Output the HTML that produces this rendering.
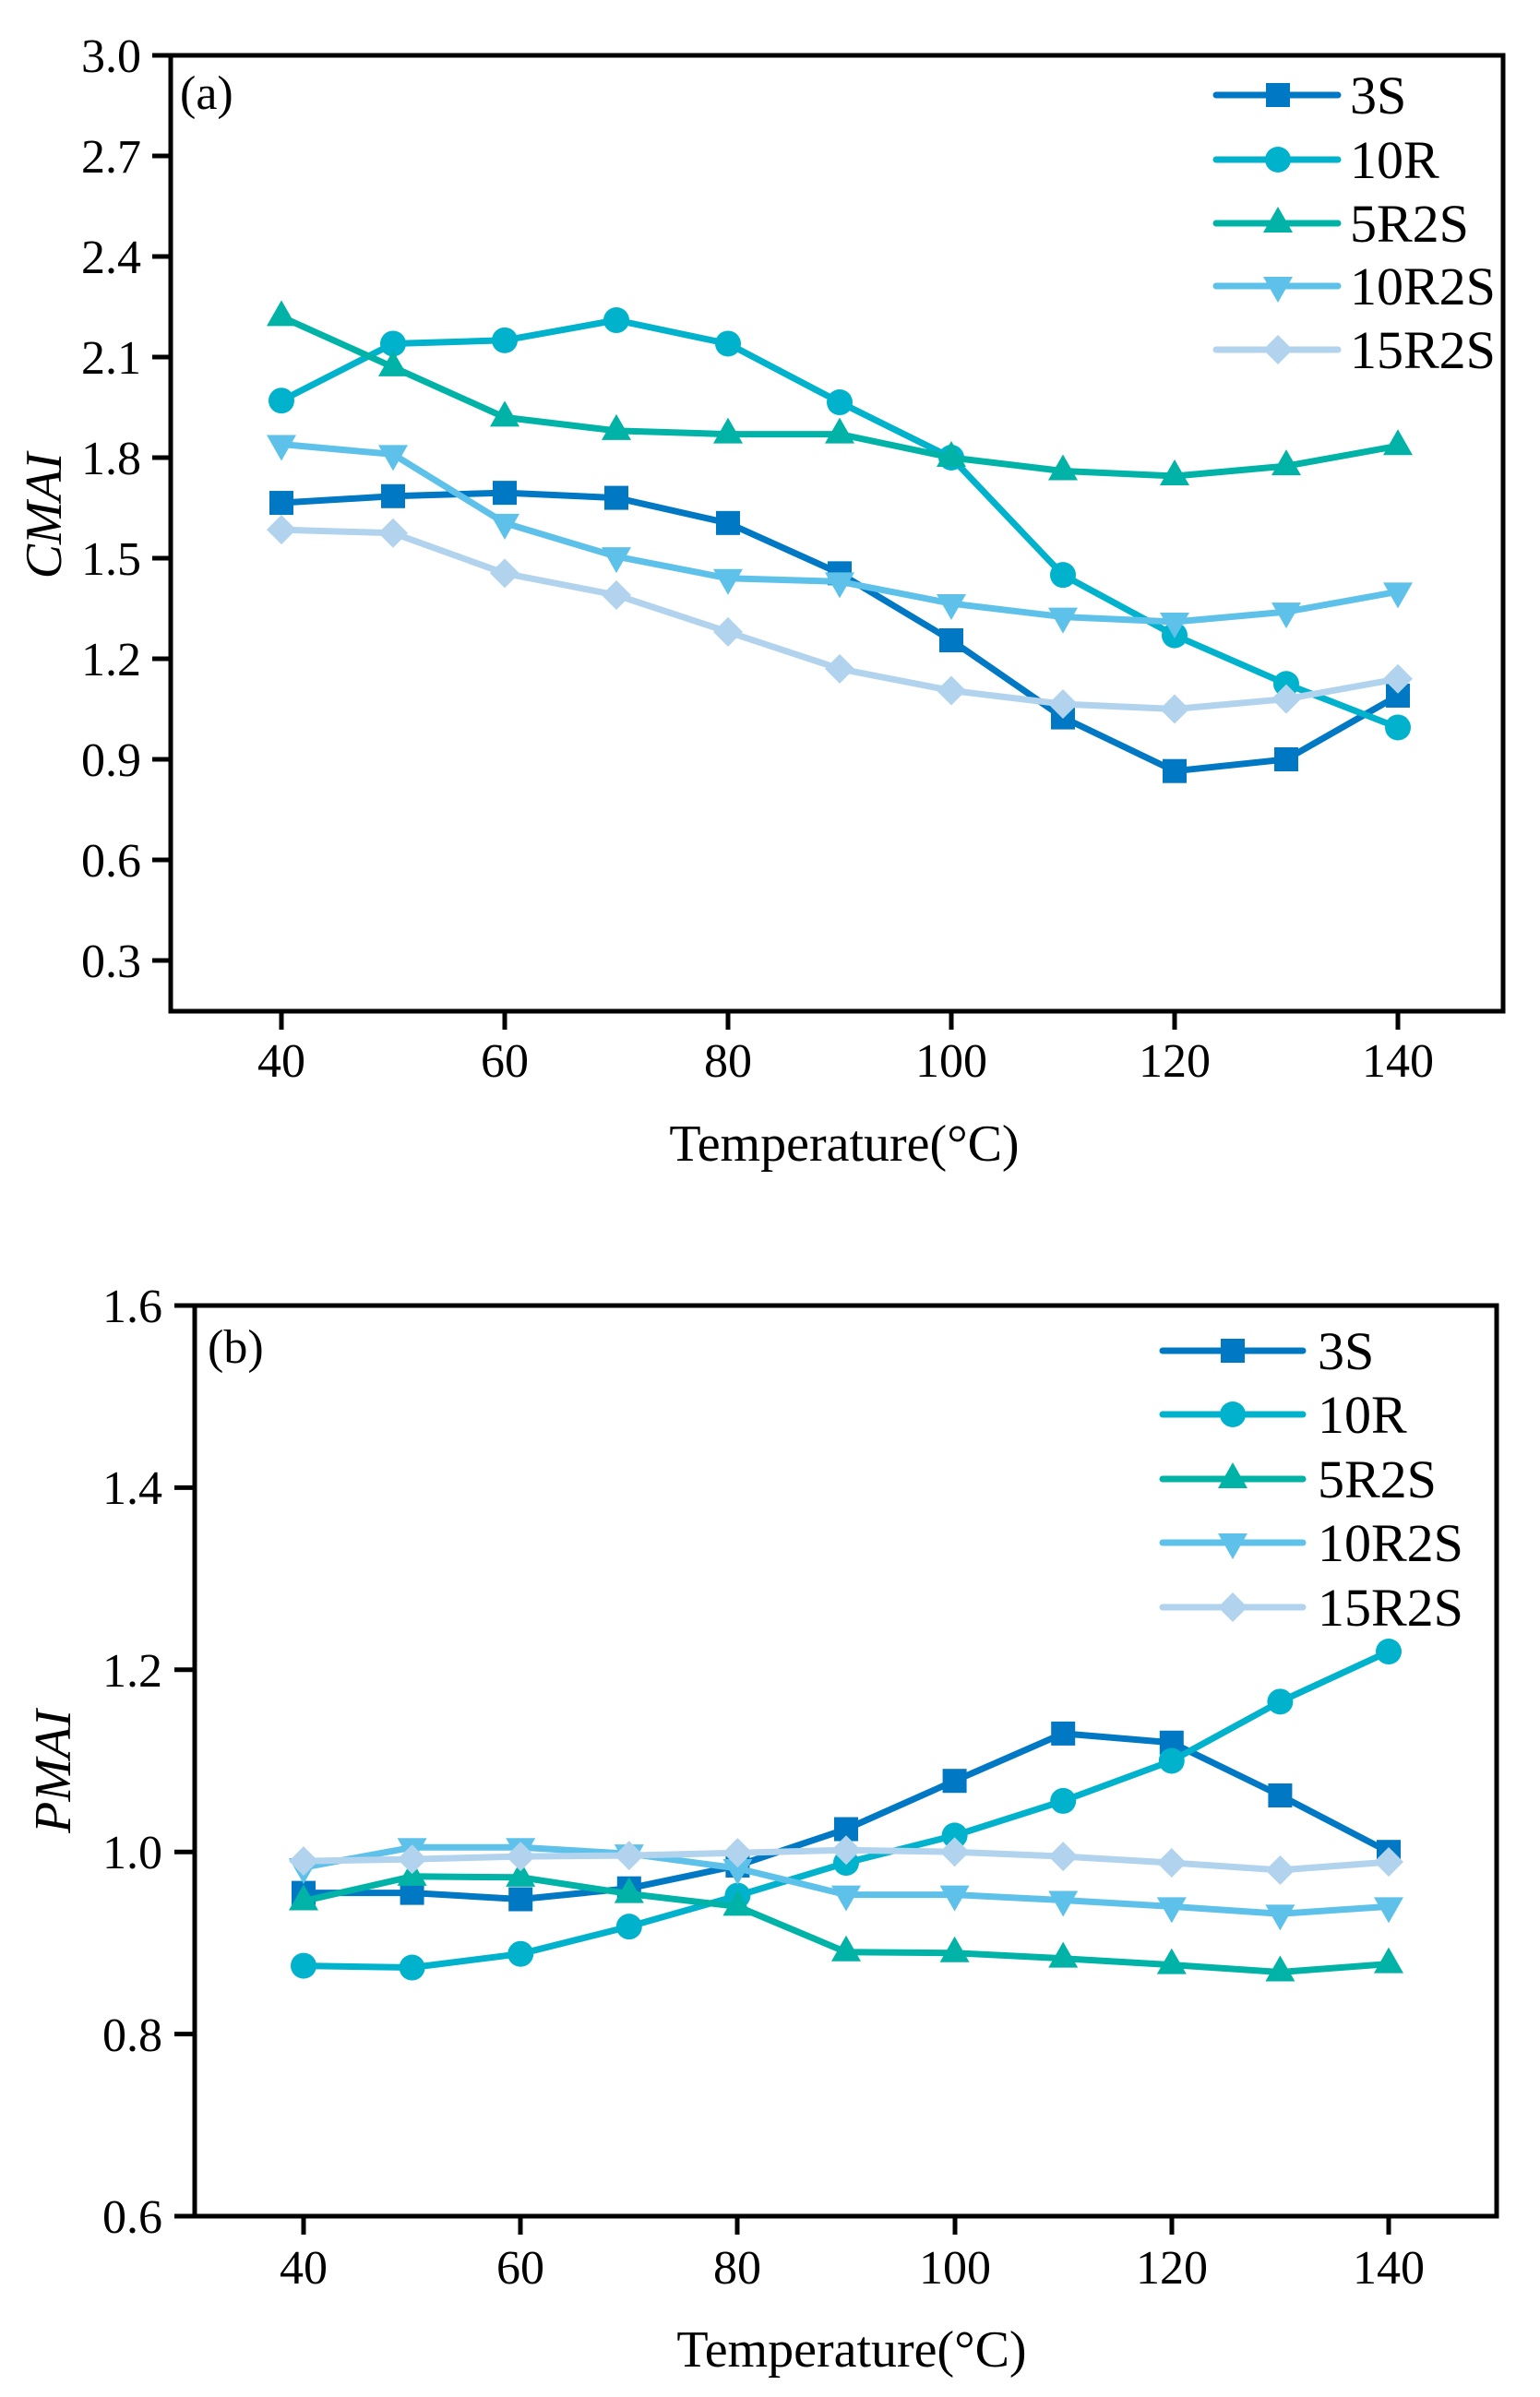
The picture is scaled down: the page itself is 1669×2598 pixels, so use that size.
<!DOCTYPE html>
<html><head><meta charset="utf-8"><style>
html,body{margin:0;padding:0;background:#fff}
svg{display:block}
text{font-family:"Liberation Serif",serif;fill:#000}
</style></head><body>
<svg id="s" width="1669" height="2598" viewBox="0 0 1669 2598" xmlns="http://www.w3.org/2000/svg">
<rect width="1669" height="2598" fill="#fff"/>
<g id="plots"></g>
<!-- Top axes -->
<rect x="185" y="60" width="1444" height="1036" fill="none" stroke="#000" stroke-width="5"/>
<g stroke="#000" stroke-width="5">
<line x1="165" y1="60" x2="185" y2="60"/><line x1="165" y1="169" x2="185" y2="169"/><line x1="165" y1="278" x2="185" y2="278"/><line x1="165" y1="387" x2="185" y2="387"/><line x1="165" y1="496" x2="185" y2="496"/><line x1="165" y1="605" x2="185" y2="605"/><line x1="165" y1="714" x2="185" y2="714"/><line x1="165" y1="823" x2="185" y2="823"/><line x1="165" y1="932" x2="185" y2="932"/><line x1="165" y1="1041" x2="185" y2="1041"/>
<line x1="305" y1="1096" x2="305" y2="1116"/><line x1="547" y1="1096" x2="547" y2="1116"/><line x1="789" y1="1096" x2="789" y2="1116"/><line x1="1031" y1="1096" x2="1031" y2="1116"/><line x1="1273" y1="1096" x2="1273" y2="1116"/><line x1="1515" y1="1096" x2="1515" y2="1116"/>
</g>
<g font-size="52" text-anchor="end">
<text x="153" y="78">3.0</text><text x="153" y="187">2.7</text><text x="153" y="296">2.4</text><text x="153" y="405">2.1</text><text x="153" y="514">1.8</text><text x="153" y="623">1.5</text><text x="153" y="732">1.2</text><text x="153" y="841">0.9</text><text x="153" y="950">0.6</text><text x="153" y="1059">0.3</text>
</g>
<g font-size="52" text-anchor="middle">
<text x="305" y="1167">40</text><text x="547" y="1167">60</text><text x="789" y="1167">80</text><text x="1031" y="1167">100</text><text x="1273" y="1167">120</text><text x="1515" y="1167">140</text>
<text x="915" y="1258" font-size="56">Temperature(°C)</text>
</g>
<text x="195" y="118" font-size="52">(a)</text>
<text transform="translate(66,559) rotate(-90)" font-size="56" font-style="italic" text-anchor="middle">CMAI</text>
<g font-size="58">
<text x="1463" y="123">3S</text><text x="1463" y="193">10R</text><text x="1463" y="262">5R2S</text><text x="1463" y="330">10R2S</text><text x="1463" y="399">15R2S</text>
</g>
<!-- Bottom axes -->
<rect x="211" y="1415" width="1411" height="987" fill="none" stroke="#000" stroke-width="5"/>
<g stroke="#000" stroke-width="5">
<line x1="189" y1="1415" x2="211" y2="1415"/><line x1="189" y1="1612.4" x2="211" y2="1612.4"/><line x1="189" y1="1809.8" x2="211" y2="1809.8"/><line x1="189" y1="2007.2" x2="211" y2="2007.2"/><line x1="189" y1="2204.6" x2="211" y2="2204.6"/><line x1="189" y1="2402" x2="211" y2="2402"/>
<line x1="329" y1="2402" x2="329" y2="2422"/><line x1="564" y1="2402" x2="564" y2="2422"/><line x1="799" y1="2402" x2="799" y2="2422"/><line x1="1035" y1="2402" x2="1035" y2="2422"/><line x1="1270" y1="2402" x2="1270" y2="2422"/><line x1="1505" y1="2402" x2="1505" y2="2422"/>
</g>
<g font-size="52" text-anchor="end">
<text x="176" y="1433">1.6</text><text x="176" y="1630">1.4</text><text x="176" y="1828">1.2</text><text x="176" y="2025">1.0</text><text x="176" y="2223">0.8</text><text x="176" y="2420">0.6</text>
</g>
<g font-size="52" text-anchor="middle">
<text x="329" y="2475">40</text><text x="564" y="2475">60</text><text x="799" y="2475">80</text><text x="1035" y="2475">100</text><text x="1270" y="2475">120</text><text x="1505" y="2475">140</text>
<text x="923" y="2565" font-size="56">Temperature(°C)</text>
</g>
<text x="225" y="1477" font-size="52">(b)</text>
<text transform="translate(76,1920) rotate(-90)" font-size="56" font-style="italic" text-anchor="middle">PMAI</text>
<g font-size="58">
<text x="1428" y="1484">3S</text><text x="1428" y="1553">10R</text><text x="1428" y="1623">5R2S</text><text x="1428" y="1692">10R2S</text><text x="1428" y="1762">15R2S</text>
</g>
</svg>
<script>
var cols=["#0078C4","#00B2CC","#00B3A6","#5EC1EA","#B2D3EE"];
var top_=[[1.665,1.685,1.695,1.68,1.605,1.455,1.255,1.025,0.865,0.9,1.09],
[1.97,2.14,2.15,2.21,2.14,1.965,1.8,1.45,1.27,1.125,0.995],
[2.22,2.07,1.92,1.88,1.87,1.87,1.8,1.76,1.745,1.775,1.835],
[1.84,1.81,1.605,1.505,1.44,1.43,1.365,1.325,1.31,1.34,1.4],
[1.585,1.575,1.455,1.39,1.28,1.17,1.105,1.065,1.05,1.08,1.14]];
var bot=[[.955,.955,.948,.96,.985,1.025,1.078,1.13,1.12,1.062,1.0],
[.875,.873,.888,.918,.952,.988,1.018,1.056,1.1,1.165,1.22],
[.946,.973,.972,.954,.94,.89,.889,.883,.876,.868,.877],
[.983,1.005,1.005,.998,.982,.953,.953,.947,.94,.932,.94],
[.99,.992,.995,.996,.999,1.002,1.0,.995,.988,.98,.989]];
var g=document.getElementById("plots"),h="";
function mk(k,x,y,c){
 if(k==0)return '<rect x="'+(x-13)+'" y="'+(y-13)+'" width="26" height="26" fill="'+c+'"/>';
 if(k==1)return '<circle cx="'+x+'" cy="'+y+'" r="14" fill="'+c+'"/>';
 if(k==2)return '<polygon points="'+x+','+(y-18)+' '+(x+16)+','+(y+10)+' '+(x-16)+','+(y+10)+'" fill="'+c+'"/>';
 if(k==3)return '<polygon points="'+x+','+(y+18)+' '+(x+16)+','+(y-10)+' '+(x-16)+','+(y-10)+'" fill="'+c+'"/>';
 return '<polygon points="'+x+','+(y-16)+' '+(x+16)+','+y+' '+x+','+(y+16)+' '+(x-16)+','+y+'" fill="'+c+'"/>';
}
function plot(data,fx,fy){
 for(var k=0;k<5;k++){var p=[],m="";
  for(var i=0;i<11;i++){var x=fx(i),y=fy(data[k][i]);p.push(x.toFixed(1)+","+y.toFixed(1));m+=mk(k,x,y,cols[k]);}
  h+='<polyline points="'+p.join(" ")+'" fill="none" stroke="'+cols[k]+'" stroke-width="7" stroke-linejoin="round"/>'+m;}
}
plot(top_,function(i){return 305+i*121},function(v){return 60+(3-v)/0.3*109});
plot(bot,function(i){return 329+i*117.6},function(v){return 1415+(1.6-v)/0.2*197.4});
var ty=[103,173,242,310,379],by=[1464,1533,1603,1672,1742];
for(var k=0;k<5;k++){
 h+='<line x1="1318" y1="'+ty[k]+'" x2="1450" y2="'+ty[k]+'" stroke="'+cols[k]+'" stroke-width="7" stroke-linecap="round"/>'+mk(k,1385,ty[k],cols[k]);
 h+='<line x1="1260" y1="'+by[k]+'" x2="1412" y2="'+by[k]+'" stroke="'+cols[k]+'" stroke-width="7" stroke-linecap="round"/>'+mk(k,1336,by[k],cols[k]);
}
g.innerHTML=h;
</script>
</body></html>
